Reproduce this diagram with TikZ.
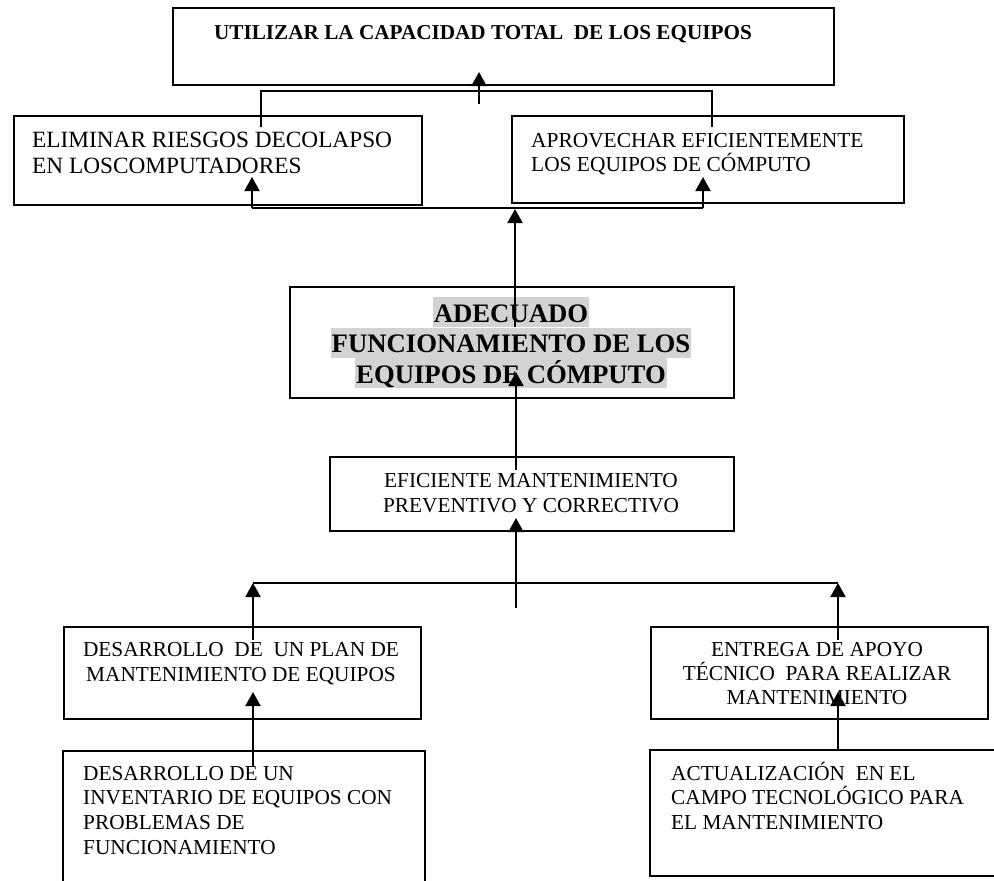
\documentclass[tikz,border=0pt]{standalone}
\usepackage{fontspec}
\setmainfont{Liberation Serif}
\usetikzlibrary{arrows.meta}
\definecolor{hl}{RGB}{211,211,211}
\newcommand\hlbox[1]{{\setlength{\fboxsep}{0pt}\colorbox{hl}{\rule[-5pt]{0pt}{30pt}\hspace{1pt}#1\hspace{1pt}}}}
\newcommand\fl{\rule{0pt}{20pt}}
\begin{document}
\begin{tikzpicture}[x=1pt,y=-1pt,
  box/.style={draw, line width=1.5pt, anchor=north west, inner sep=0pt},
  openbox/.style={line width=1.5pt},
  conn/.style={line width=2pt},
  arr/.style={conn, -{Triangle[width=15pt,length=14pt]}},
  txt/.style={inner sep=0pt, font=\fontsize{21.3}{25}\selectfont},
  txtb/.style={inner sep=0pt, font=\fontsize{21.2}{25}\selectfont\bfseries}]
\useasboundingbox (0,0) rectangle (994,881);

% boxes
\node[box, minimum width=661pt, minimum height=77pt] (b0) at (172,7) {};
\node[box, minimum width=408pt, minimum height=89pt] (b1) at (13,115) {};
\node[box, minimum width=392pt, minimum height=87pt] (b2) at (511,115) {};
\node[box, minimum width=444pt, minimum height=111pt] (b3) at (289,286) {};
\node[box, minimum width=404pt, minimum height=74pt] (b4) at (329,456) {};
\node[box, minimum width=357pt, minimum height=92pt] (b5) at (63,626) {};
\node[box, minimum width=337pt, minimum height=92pt] (b6) at (650,626) {};
\draw[openbox] (63,881) -- (63,751) -- (425,751) -- (425,881);
\draw[openbox] (994,750) -- (650,750) -- (650,876) -- (994,876);

% texts
\node[txtb, anchor=base] (t0) at (483,39) {UTILIZAR LA CAPACIDAD TOTAL\ \ DE LOS EQUIPOS};
\node[inner sep=0pt, font=\fontsize{23.3}{26}\selectfont, align=left, anchor=north west] (t1) at (32,127) {\fl ELIMINAR RIESGOS DECOLAPSO\\EN LOSCOMPUTADORES};
\node[inner sep=0pt, font=\fontsize{21.4}{24.5}\selectfont, align=left, anchor=north west] (t2) at (531,127) {\fl APROVECHAR EFICIENTEMENTE\\LOS EQUIPOS DE CÓMPUTO};
\node[inner sep=0pt, font=\fontsize{26.7}{30.5}\selectfont\bfseries, align=center, anchor=north] (t3) at (511,297)
  {\hlbox{ADECUADO}\\\hlbox{FUNCIONAMIENTO DE LOS}\\\hlbox{EQUIPOS DE CÓMPUTO}};
\node[txt, align=center, anchor=north] (t4) at (531,467) {\fl EFICIENTE MANTENIMIENTO\\PREVENTIVO Y CORRECTIVO};
\node[txt, align=center, anchor=north] (t5) at (241,636) {\fl DESARROLLO\ \ DE\ \ UN PLAN DE\\MANTENIMIENTO DE EQUIPOS};
\node[txt, font=\fontsize{21.3}{24}\selectfont, align=center, anchor=north] (t6) at (817,636) {\fl ENTREGA DE APOYO\\TÉCNICO\ \ PARA REALIZAR\\MANTENIMIENTO};
\node[txt, font=\fontsize{21.3}{24.7}\selectfont, align=left, anchor=north west] (t7) at (83,760) {\fl DESARROLLO DE UN\\INVENTARIO DE EQUIPOS CON\\PROBLEMAS DE\\FUNCIONAMIENTO};
\node[txt, font=\fontsize{21.3}{24.7}\selectfont, align=left, anchor=north west] (t8) at (671,760) {\fl ACTUALIZACIÓN\ \ EN EL\\CAMPO TECNOLÓGICO PARA\\EL MANTENIMIENTO};

% connector coordinates
\coordinate (a0) at (479,104); \coordinate (a0t) at (479,72);
\coordinate (f1) at (261,127); \coordinate (f2) at (712,127);
\coordinate (m0) at (515,327); \coordinate (m0t) at (515,209);
\coordinate (hL) at (252,208); \coordinate (hR) at (703,208);
\coordinate (hLt) at (252,177); \coordinate (hRt) at (703,177);
\coordinate (e0) at (516,470); \coordinate (e0t) at (516,372);
\coordinate (d0) at (516,608); \coordinate (d0t) at (516,518);
\coordinate (gL) at (253,583); \coordinate (gR) at (838,583);
\coordinate (pL) at (253,640); \coordinate (pR) at (838,640);
\coordinate (qL) at (253,767); \coordinate (qLt) at (253,692);
\coordinate (qR) at (838,750); \coordinate (qRt) at (838,692);

% connectors
\draw[arr] (a0) -- (a0t);
\draw[conn] (f1) |- (f2 |- 0,91) -- (f2);
\draw[conn] (hL) -- (hR);
\draw[arr] (hL) -- (hLt);
\draw[arr] (hR) -- (hRt);
\draw[arr] (m0) -- (m0t);
\draw[arr] (e0) -- (e0t);
\draw[arr] (d0) -- (d0t);
\draw[conn] (gL) -- (gR);
\draw[arr] (pL) -- (gL);
\draw[arr] (pR) -- (gR);
\draw[arr] (qL) -- (qLt);
\draw[arr] (qR) -- (qRt);
\end{tikzpicture}
\end{document}
